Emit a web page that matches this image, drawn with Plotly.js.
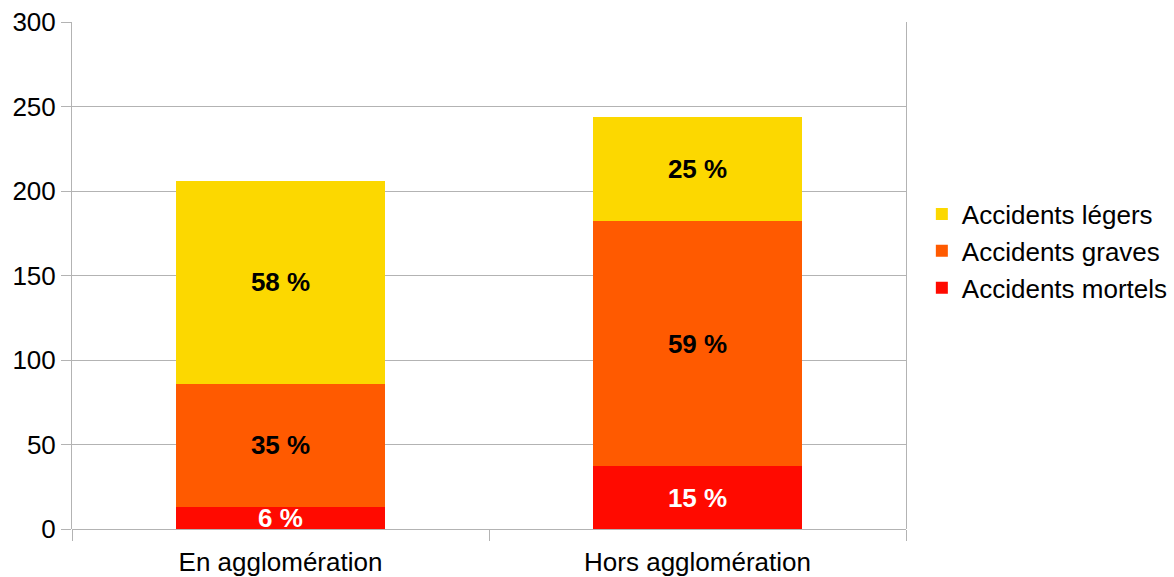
<!DOCTYPE html>
<html>
<head>
<meta charset="utf-8">
<script src="https://cdn.plot.ly/plotly-3.0.1.min.js"></script>
<style>html,body{margin:0;padding:0;background:#fff}#chart{width:1174px;height:577px}</style>
</head>
<body>
<div id="chart"></div>
<script>
var categories = ["En agglomération", "Hors agglomération"];
var mortels = [13, 37];
var graves = [73, 145];
var legers = [120, 62];
var mortelsLabels = ["6 %", "15 %"];
var gravesLabels = ["35 %", "59 %"];
var legersLabels = ["58 %", "25 %"];
var seriesNames = ["Accidents mortels", "Accidents graves", "Accidents légers"];
var yTicks = [0, 50, 100, 150, 200, 250, 300];

var font = "Liberation Sans, Arial, sans-serif";
function tr(name, vals, labels, color, txtColor) {
  return {
    type: "bar", name: name, x: categories, y: vals,
    text: labels, textposition: "inside", insidetextanchor: "middle",
    constraintext: "none", textangle: 0,
    textfont: {family: font, size: 26, color: txtColor, weight: "bold"},
    marker: {color: color, line: {width: 0}},
    hoverinfo: "none", width: 0.5
  };
}
var data = [
  tr(seriesNames[0], mortels, mortelsLabels, "#ff0a00", "#ffffff"),
  tr(seriesNames[1], graves, gravesLabels, "#ff5a00", "#000000"),
  tr(seriesNames[2], legers, legersLabels, "#fcd800", "#000000")
];
var layout = {
  width: 1174, height: 577,
  margin: {l: 72, r: 268, t: 22, b: 48, pad: 0, autoexpand: false},
  barmode: "stack",
  paper_bgcolor: "#ffffff", plot_bgcolor: "#ffffff",
  font: {family: font, size: 26, color: "#000"},
  showlegend: true,
  legend: {x: 1.019, y: 0.548, xanchor: "left", yanchor: "middle",
    traceorder: "reversed", font: {family: font, size: 26, color: "#000"},
    itemwidth: 30, tracegroupgap: 0},
  xaxis: {
    type: "category", tickson: "boundaries", ticks: "outside", ticklen: 11,
    tickcolor: "#b3b3b3", tickwidth: 1, showgrid: false, zeroline: false,
    showline: false, ticklabelstandoff: 15,
    tickfont: {family: font, size: 26, color: "#000"}
  },
  yaxis: {
    range: [0, 300], tickvals: yTicks, ticktext: yTicks.map(String),
    ticks: "outside", ticklen: 10, tickcolor: "#b3b3b3",
    showgrid: true, gridcolor: "#b3b3b3", gridwidth: 1,
    zeroline: true, zerolinecolor: "#b3b3b3", zerolinewidth: 1,
    showline: true, linecolor: "#b3b3b3", linewidth: 1, mirror: true,
    tickfont: {family: font, size: 26, color: "#000"}
  }
};
Plotly.newPlot("chart", data, layout, {displayModeBar: false, staticPlot: true});
</script>
</body>
</html>
